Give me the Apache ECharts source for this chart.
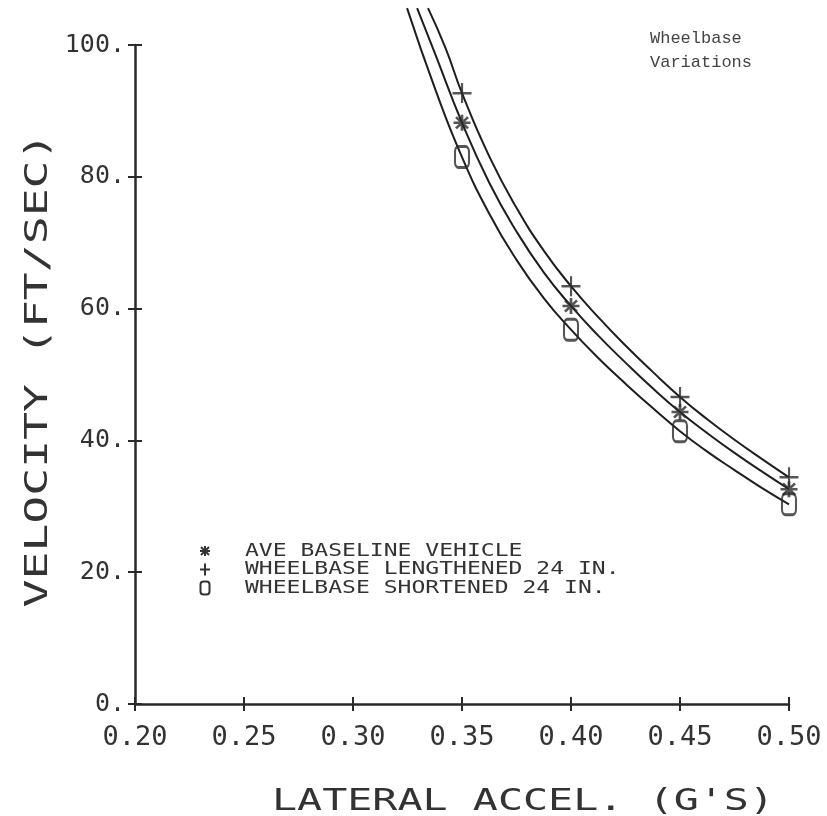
<!DOCTYPE html>
<html>
<head>
<meta charset="utf-8">
<script src="https://cdn.jsdelivr.net/npm/echarts@6/dist/echarts.min.js"></script>
<style>
  html, body { margin: 0; padding: 0; background: #fff; }
  #chart { width: 827px; height: 816px; }
</style>
</head>
<body>
<div id="chart"></div>
<script>
// Lateral acceleration (g) at the tested points
const testAccel = [0.35, 0.40, 0.45, 0.50];
// Velocity (ft/sec) at the tested points
const baselinePts   = [88.2, 60.4, 44.3, 32.6];
const lengthenedPts = [92.7, 63.4, 46.6, 34.4];
const shortenedPts  = [83.0, 56.8, 41.4, 30.3];

// Fitted curves through the tested points
const baselineCurveX   = [0.3294, 0.3375, 0.35, 0.3625, 0.375, 0.3875, 0.40, 0.4125, 0.425, 0.4375, 0.45, 0.4625, 0.475, 0.4875, 0.50];
const baselineCurveY   = [105.6, 98.8, 88.2, 79.1, 71.7, 65.5, 60.4, 55.9, 51.8, 47.9, 44.3, 41.1, 38.1, 35.3, 32.6];
const lengthenedCurveX = [0.3344, 0.3425, 0.35, 0.3625, 0.375, 0.3875, 0.40, 0.4125, 0.425, 0.4375, 0.45, 0.4625, 0.475, 0.4875, 0.50];
const lengthenedCurveY = [105.6, 99.5, 92.7, 83.1, 75.3, 68.8, 63.4, 58.7, 54.4, 50.4, 46.6, 43.2, 40.1, 37.2, 34.4];
const shortenedCurveX  = [0.3248, 0.3375, 0.35, 0.3625, 0.375, 0.3875, 0.40, 0.4125, 0.425, 0.4375, 0.45, 0.4625, 0.475, 0.4875, 0.50];
const shortenedCurveY  = [105.6, 93.5, 83.0, 74.4, 67.4, 61.6, 56.8, 52.5, 48.6, 44.9, 41.4, 38.3, 35.5, 32.8, 30.3];

// Axis tick labels
const xTickLabels = ['0.20', '0.25', '0.30', '0.35', '0.40', '0.45', '0.50'];
const yTickLabels = ['0.', '20.', '40.', '60.', '80.', '100.'];

// Legend entries
const legendLabels = ['AVE BASELINE VEHICLE', 'WHEELBASE LENGTHENED 24 IN.', 'WHEELBASE SHORTENED 24 IN.'];
const noteLines = ['Wheelbase', 'Variations'];

const INK = '#1e1e1e';
const TEXT = '#333';
const MONO = '"DejaVu Sans Mono", monospace';

// Marker outlines
const PLUS_PATH = 'M0,88 H98 V0 H123 V88 H220 V113 H123 V200 H98 V113 H0 Z';
const STAR_PATH = 'M0,42 H100 V58 H0 Z M42,0 H58 V100 H42 Z ' +
  'M20,9 L91,80 L80,91 L9,20 Z M80,9 L91,20 L20,91 L9,80 Z';

const pairs = (xs, ys) => xs.map((x, i) => [x, ys[i]]);

const chart = echarts.init(document.getElementById('chart'), null, { renderer: 'canvas' });

const axisX = (inside) => ({
  type: 'value', min: 0.2, max: 0.5, interval: 0.05,
  position: 'bottom',
  axisLine: { show: !inside, lineStyle: { color: '#2a2a2a', width: 2.5 } },
  axisTick: { show: true, inside: inside, length: 7, lineStyle: { color: '#2a2a2a', width: 2 } },
  axisLabel: {
    show: !inside, margin: 20, color: TEXT,
    fontFamily: MONO, fontSize: 27,
    formatter: (v, i) => xTickLabels[i]
  },
  splitLine: { show: false }
});

const axisY = (inside) => ({
  type: 'value', min: 0, max: 100, interval: 20,
  position: 'left',
  axisLine: { show: !inside, lineStyle: { color: '#2a2a2a', width: 2.5 } },
  axisTick: { show: true, inside: inside, length: 7, lineStyle: { color: '#2a2a2a', width: 2 } },
  axisLabel: {
    show: !inside, margin: 10, color: TEXT,
    fontFamily: MONO, fontSize: 25,
    formatter: (v, i) => yTickLabels[i]
  },
  splitLine: { show: false }
});

const curve = (xs, ys) => ({
  type: 'line', xAxisIndex: 0, yAxisIndex: 0,
  data: pairs(xs, ys),
  smooth: 0.5,
  showSymbol: false, clip: false, silent: true,
  lineStyle: { color: INK, width: 2 },
  z: 2
});

const points = (ys, symbol, size, style) => ({
  type: 'scatter', xAxisIndex: 0, yAxisIndex: 0,
  data: pairs(testAccel, ys),
  symbol: symbol, symbolSize: size, symbolKeepAspect: false,
  itemStyle: style, silent: true, z: 3
});

// Legend rows: marker glyph drawn with strokes, label as text
const legendTop = 551, legendGap = 18.5, mx = 205;
const mark = { stroke: '#333', lineWidth: 2 };
const legendGraphics = [];
legendLabels.forEach((label, i) => {
  legendGraphics.push({
    type: 'text', x: 245, y: legendTop + i * legendGap, scaleX: 1.28,
    style: { text: label, font: '18px ' + MONO, fill: TEXT, align: 'left', verticalAlign: 'middle' }
  });
});
const r0 = legendTop, r1 = legendTop + legendGap, r2 = legendTop + 2 * legendGap;
legendGraphics.push(
  { type: 'line', shape: { x1: mx - 5, y1: r0, x2: mx + 5, y2: r0 }, style: mark },
  { type: 'line', shape: { x1: mx, y1: r0 - 5, x2: mx, y2: r0 + 5 }, style: mark },
  { type: 'line', shape: { x1: mx - 4, y1: r0 - 4, x2: mx + 4, y2: r0 + 4 }, style: mark },
  { type: 'line', shape: { x1: mx + 4, y1: r0 - 4, x2: mx - 4, y2: r0 + 4 }, style: mark },
  { type: 'line', shape: { x1: mx - 5, y1: r1, x2: mx + 5, y2: r1 }, style: mark },
  { type: 'line', shape: { x1: mx, y1: r1 - 6, x2: mx, y2: r1 + 6 }, style: mark },
  { type: 'rect', shape: { x: mx - 4.5, y: r2 - 6.5, width: 9, height: 13, r: 3 },
    style: { fill: 'none', stroke: '#333', lineWidth: 2 } }
);

chart.setOption({
  animation: false,
  backgroundColor: '#fff',
  grid: { left: 135, right: 38, top: 45, bottom: 112, containLabel: false },
  xAxis: [axisX(false), axisX(true)],
  yAxis: [axisY(false), axisY(true)],
  series: [
    curve(shortenedCurveX, shortenedCurveY),
    curve(baselineCurveX, baselineCurveY),
    curve(lengthenedCurveX, lengthenedCurveY),
    points(baselinePts, 'path://' + STAR_PATH, [17, 16], { color: '#2a2a2a' }),
    points(lengthenedPts, 'path://' + PLUS_PATH, [19, 20], { color: '#2a2a2a' }),
    points(shortenedPts, 'roundRect', [14, 21], { color: 'rgba(0,0,0,0)', borderColor: '#2a2a2a', borderWidth: 2.5 })
  ],
  graphic: [
    {
      type: 'text', x: 523, y: 802, scaleX: 1.39,
      style: { text: "LATERAL ACCEL. (G'S)", font: '30px ' + MONO, fill: TEXT, align: 'center', verticalAlign: 'middle' }
    },
    {
      type: 'text', x: 39, y: 370, rotation: Math.PI / 2, scaleX: 1.45,
      style: { text: 'VELOCITY (FT/SEC)', font: '32px ' + MONO, fill: TEXT, align: 'center', verticalAlign: 'middle' }
    },
    {
      type: 'text', x: 650, y: 38,
      style: { text: noteLines[0], font: '17px "Liberation Mono", monospace', fill: '#444', align: 'left', verticalAlign: 'middle' }
    },
    {
      type: 'text', x: 650, y: 62,
      style: { text: noteLines[1], font: '17px "Liberation Mono", monospace', fill: '#444', align: 'left', verticalAlign: 'middle' }
    }
  ].concat(legendGraphics)
});
</script>
</body>
</html>
